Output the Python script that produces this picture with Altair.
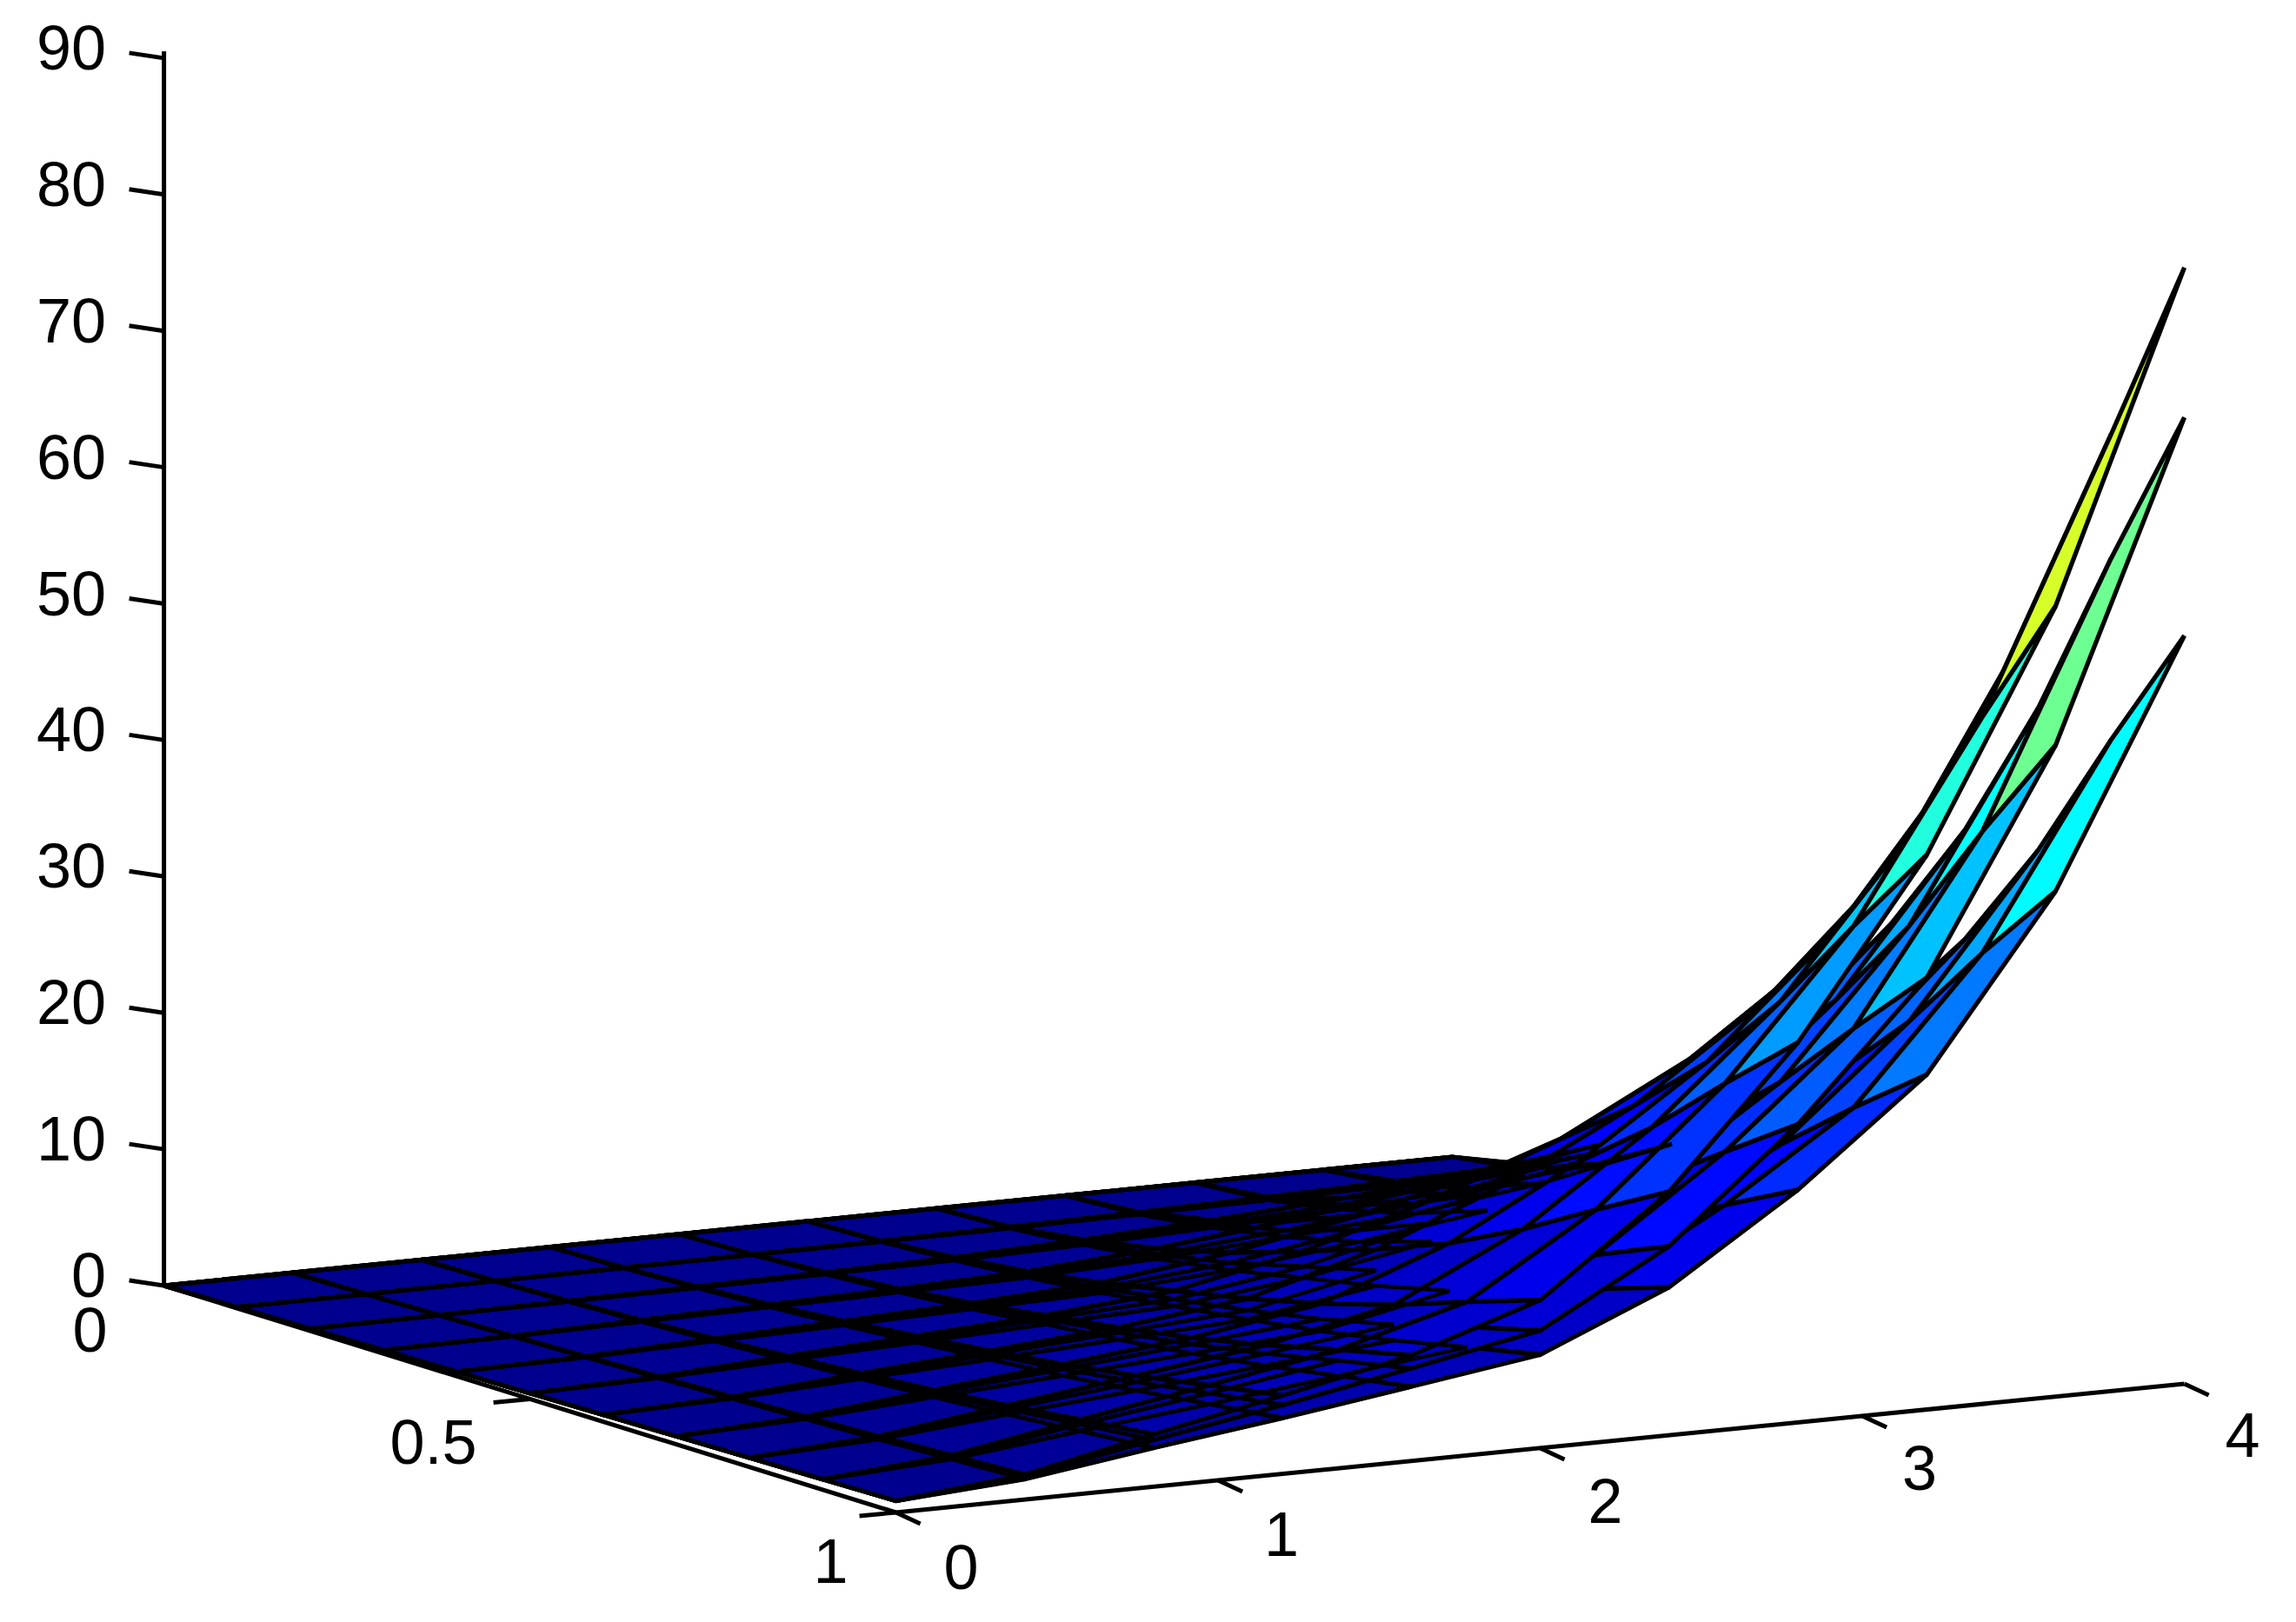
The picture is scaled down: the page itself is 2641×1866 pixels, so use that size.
import altair as alt
import pandas as pd

alt.data_transformers.disable_max_rows()

# Grid of the surfaces
x_grid = [0, 0.4, 0.8, 1.2, 1.6, 2.0, 2.4, 2.8, 3.2, 3.6, 4.0]
y_grid = [0, 0.1, 0.2, 0.3, 0.4, 0.5, 0.6, 0.7, 0.8, 0.9, 1.0]
i0 = [0] * 11

# z[x index][y index], three sheets
sheet_a = [
    i0,
    [0, .01, .05, .1, .17, .27, .37, .49, .63, .81, .97],
    [0, .04, .15, .32, .54, .84, 1.14, 1.5, 1.95, 2.49, 3],
    [0, .06, .25, .51, .88, 1.37, 1.86, 2.45, 3.19, 4.07, 4.9],
    [0, .09, .35, .72, 1.24, 1.93, 2.62, 3.45, 4.49, 5.73, 6.9],
    [0, .13, .5, 1.05, 1.8, 2.8, 3.8, 5, 6.5, 8.3, 10],
    [0, .22, .85, 1.79, 3.06, 4.76, 6.46, 8.5, 11.1, 14.1, 17],
    [0, .35, 1.35, 2.84, 4.86, 7.56, 10.3, 13.5, 17.6, 22.4, 27],
    [0, .52, 1.99, 4.18, 7.16, 11.1, 15.1, 19.9, 25.9, 33, 39.8],
    [0, .74, 2.86, 6, 10.3, 16, 21.7, 28.6, 37.1, 47.4, 57.1],
    [0, 1.05, 4.05, 8.5, 14.6, 22.7, 30.8, 40.5, 52.7, 67.2, 81],
]
sheet_b = [
    i0,
    [0, .01, .04, .09, .15, .24, .32, .42, .55, .7, .84],
    [0, .03, .13, .27, .47, .73, .98, 1.3, 1.68, 2.15, 2.59],
    [0, .05, .21, .44, .76, 1.18, 1.6, 2.1, 2.73, 3.49, 4.2],
    [0, .08, .3, .62, 1.07, 1.67, 2.26, 2.98, 3.87, 4.94, 5.95],
    [0, .1, .39, .82, 1.4, 2.18, 2.95, 3.89, 5.05, 6.45, 7.78],
    [0, .17, .65, 1.36, 2.33, 3.63, 4.92, 6.48, 8.42, 10.8, 13],
    [0, .28, 1.05, 2.2, 3.78, 5.88, 7.97, 10.5, 13.7, 17.4, 21],
    [0, .4, 1.54, 3.23, 5.54, 8.61, 11.7, 15.4, 20, 25.5, 30.8],
    [0, .61, 2.35, 4.92, 8.44, 13.1, 17.8, 23.5, 30.5, 39, 46.9],
    [0, .91, 3.5, 7.35, 12.6, 19.6, 26.6, 35, 45.5, 58.1, 70],
]
sheet_c = [
    i0,
    [0, .01, .03, .07, .12, .18, .25, .33, .42, .54, .65],
    [0, .03, .1, .21, .36, .56, .76, 1, 1.3, 1.66, 2],
    [0, .04, .16, .34, .58, .91, 1.23, 1.62, 2.11, 2.69, 3.24],
    [0, .06, .23, .48, .83, 1.29, 1.75, 2.3, 2.99, 3.82, 4.6],
    [0, .08, .3, .63, 1.08, 1.68, 2.28, 3, 3.9, 4.98, 6],
    [0, .13, .5, 1.05, 1.8, 2.8, 3.8, 5, 6.5, 8.3, 10],
    [0, .21, .81, 1.7, 2.92, 4.54, 6.16, 8.1, 10.5, 13.5, 16.2],
    [0, .31, 1.19, 2.49, 4.28, 6.65, 9, 11.9, 15.4, 19.7, 23.7],
    [0, .47, 1.81, 3.8, 6.52, 10.1, 13.7, 18.1, 23.5, 30.1, 36.2],
    [0, .7, 2.7, 5.67, 9.72, 15.1, 20.5, 27, 35.1, 44.8, 54],
]

x_ticks = [0, 1, 2, 3, 4]
y_ticks = [0, 0.5, 1]
z_ticks = [0, 10, 20, 30, 40, 50, 60, 70, 80, 90]
x_labels = ["0", "1", "2", "3", "4"]
y_labels = ["0", "0.5", "1"]
z_labels = ["0", "10", "20", "30", "40", "50", "60", "70", "80", "90"]

jet_stops = [0, 10.125, 30.375, 50.625, 70.875, 81]
jet_colors = ["#00008f", "#0000ff", "#00ffff", "#ffff00", "#ff0000", "#800000"]


def proj(x, y, z):
    """Orthographic view of the 3-D box, in page pixels less the 8px margin."""
    return (188.6 + 370.5 * x + 842.0 * y - 8,
            1479.0 - 37.0 * x + 247.6 * y - 15.69 * z - 8)


# Quads, painted from the far side of the box to the near side
quads = []
for sheet in (sheet_c, sheet_b, sheet_a):
    for i in range(10):
        for j in range(10):
            corners = [(i, j), (i + 1, j), (i + 1, j + 1), (i, j + 1)]
            pts = [(x_grid[a], y_grid[b], sheet[a][b]) for a, b in corners]
            cx = sum(p[0] for p in pts) / 4
            cy = sum(p[1] for p in pts) / 4
            cz = sum(p[2] for p in pts) / 4
            depth = -0.42 * cx / 4 + 0.74 * cy + 0.17 * cz / 90
            quads.append((depth, sheet[i][j], pts))
quads.sort(key=lambda q: q[0])

rows = []
for n, (_, level, pts) in enumerate(quads):
    flat = max(p[2] for p in pts) < 6
    for k, p in enumerate(pts):
        u, v = proj(*p)
        rows.append({"quad": n, "seq": k, "u": u, "v": v, "level": level, "flat": flat})
mesh = pd.DataFrame(rows)
# Where the sheets nearly coincide the wires of all three show through
mesh_flat = mesh[mesh["flat"]].drop(columns=["flat", "level"])
mesh = mesh.drop(columns=["flat"])

FLOOR = -0.85  # the front of the axis floor sits just below the surface edge
segs = []


def seg(a, b):
    segs.append({"u": a[0], "v": a[1], "u2": b[0], "v2": b[1]})


# axis lines
seg(proj(0, 0, 0), proj(0, 0, 90.5))
seg(proj(0, 0, 0), proj(0, 1, FLOOR))
seg(proj(0, 1, FLOOR), proj(4, 1, FLOOR))
# ticks
for t in z_ticks:
    u, v = proj(0, 0, t)
    seg((u, v), (u - 40, v - 6))
for t in y_ticks[1:]:
    u, v = proj(0, t, FLOOR * t)
    seg((u, v), (u - 42, v + 4))
for t in x_ticks:
    u, v = proj(t, 1, FLOOR)
    seg((u, v), (u + 28, v + 13))
axes = pd.DataFrame(segs)

z_text = pd.DataFrame([
    {"t": l, "u": 114, "v": proj(0, 0, t)[1] - 9} for l, t in zip(z_labels, z_ticks)
])
y_nudge = [(-85, 54), (-111, 53), (-75, 59)]
x_nudge = [(75, 66), (73, 65), (75, 64), (66, 63), (67, 62)]
other = []
for l, t, (du, dv) in zip(y_labels, y_ticks, y_nudge):
    u, v = proj(0, t, FLOOR * t)
    other.append({"t": l, "u": u + du, "v": v + dv})
for l, t, (du, dv) in zip(x_labels, x_ticks, x_nudge):
    u, v = proj(t, 1, FLOOR)
    other.append({"t": l, "u": u + du, "v": v + dv})
other = pd.DataFrame(other)

W, H = 2625, 1850
X = alt.X("u:Q", scale=alt.Scale(domain=[0, W], nice=False, zero=False), axis=None)
Y = alt.Y("v:Q", scale=alt.Scale(domain=[0, H], nice=False, zero=False, reverse=True), axis=None)

surface = alt.Chart(mesh).mark_line(
    interpolate="linear-closed", stroke="black", strokeWidth=5.2, strokeJoin="miter",
).encode(
    x=X, y=Y,
    order=alt.Order("seq:Q"),
    detail="quad:N",
    fill=alt.Fill("level:Q", legend=None,
                  scale=alt.Scale(domain=jet_stops, range=jet_colors, interpolate="rgb")),
)

wires = alt.Chart(mesh_flat).mark_line(
    interpolate="linear-closed", stroke="black", strokeWidth=4.6, strokeJoin="miter",
).encode(
    x=X, y=Y,
    order=alt.Order("seq:Q"),
    detail="quad:N",
)

rules = alt.Chart(axes).mark_rule(color="black", strokeWidth=5).encode(
    x=X, y=Y, x2="u2:Q", y2="v2:Q")

font = dict(font="Liberation Sans", fontSize=72, color="black", baseline="middle")
zt = alt.Chart(z_text).mark_text(align="right", **font).encode(x=X, y=Y, text="t:N")
ot = alt.Chart(other).mark_text(align="center", **font).encode(x=X, y=Y, text="t:N")

chart = alt.layer(surface, wires, rules, zt, ot).properties(
    width=W, height=H, padding=0, autosize=alt.AutoSizeParams(type="none"),
).configure_view(stroke=None)

chart.save("out.html", embed_options={"renderer": "svg", "actions": False})
